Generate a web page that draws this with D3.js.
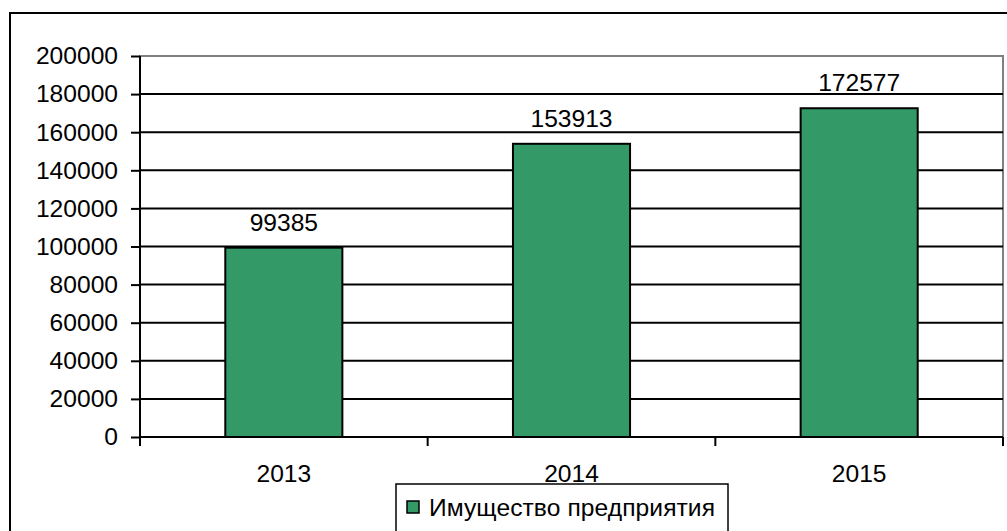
<!DOCTYPE html>
<html>
<head>
<meta charset="utf-8">
<script src="https://cdn.jsdelivr.net/npm/d3@7"></script>
<style>
  html, body { margin: 0; padding: 0; background: #fff; }
  svg text { font-family: "Liberation Sans", Arial, sans-serif; fill: #000; }
</style>
</head>
<body>
<div id="chart"></div>
<script>
const years = ["2013", "2014", "2015"];
const values = [99385, 153913, 172577];
const yTicks = [0, 20000, 40000, 60000, 80000, 100000, 120000, 140000, 160000, 180000, 200000];
const seriesName = "Имущество предприятия";

const W = 1007, H = 531;
const plot = {left: 140, top: 56, right: 1003, bottom: 437};
const barColor = "#339966";
const fontSize = 24.6;

const svg = d3.select("#chart").append("svg").attr("width", W).attr("height", H);

// outer chart frame (right and bottom are cut off)
svg.append("rect").attr("x", 10).attr("y", 13).attr("width", W + 20).attr("height", H + 20)
    .attr("fill", "#fff").attr("stroke", "#000").attr("stroke-width", 2);

const x = d3.scaleBand().domain(years).range([plot.left, plot.right]).paddingInner(0.593).paddingOuter(0.2965);
const y = d3.scaleLinear().domain([0, 200000]).range([plot.bottom, plot.top]);

// plot area border (gray)
svg.append("rect").attr("x", plot.left).attr("y", plot.top)
    .attr("width", plot.right - plot.left).attr("height", plot.bottom - plot.top)
    .attr("fill", "none").attr("stroke", "#808080").attr("stroke-width", 2);

// gridlines
svg.append("g").selectAll("line").data(yTicks.filter(d => d > 0 && d < 200000)).join("line")
    .attr("x1", plot.left).attr("x2", plot.right)
    .attr("y1", d => y(d)).attr("y2", d => y(d))
    .attr("stroke", "#000").attr("stroke-width", 2);

// bars
svg.append("g").selectAll("rect").data(values).join("rect")
    .attr("x", (d, i) => x(years[i]))
    .attr("y", d => y(d))
    .attr("width", x.bandwidth())
    .attr("height", d => y(0) - y(d))
    .attr("fill", barColor).attr("stroke", "#000").attr("stroke-width", 2);

// value labels
svg.append("g").selectAll("text").data(values).join("text")
    .attr("x", (d, i) => x(years[i]) + x.bandwidth() / 2)
    .attr("y", d => y(d) - 17)
    .attr("text-anchor", "middle")
    .attr("font-size", fontSize)
    .text(d => d);

// y axis
const yAxis = svg.append("g").attr("transform", `translate(${plot.left},0)`)
    .call(d3.axisLeft(y).tickValues(yTicks).tickSize(9).tickPadding(13).tickFormat(d => d));
yAxis.select(".domain").attr("stroke", "#000").attr("stroke-width", 2).attr("d", `M0,${plot.top}V${plot.bottom}`);
yAxis.selectAll(".tick line").attr("stroke", "#000").attr("stroke-width", 2);
yAxis.selectAll(".tick text").attr("font-size", fontSize).attr("font-family", "Liberation Sans, Arial, sans-serif").attr("fill", "#000");

// x axis
const xAxis = svg.append("g").attr("transform", `translate(0,${plot.bottom})`)
    .call(d3.axisBottom(x).tickSize(0).tickPadding(28));
xAxis.select(".domain").attr("stroke", "#000").attr("stroke-width", 2).attr("d", `M${plot.left},0H${plot.right}`);
xAxis.selectAll(".tick text").attr("font-size", fontSize).attr("font-family", "Liberation Sans, Arial, sans-serif").attr("fill", "#000");
const step = x.step();
xAxis.selectAll(".sep").data(d3.range(years.length + 1)).join("line")
    .attr("x1", i => plot.left + i * step).attr("x2", i => plot.left + i * step)
    .attr("y1", 0).attr("y2", 9)
    .attr("stroke", "#000").attr("stroke-width", 2);

// legend
const legend = svg.append("g").attr("transform", "translate(396,484)");
legend.append("rect").attr("x", 0).attr("y", 0).attr("width", 332).attr("height", 60)
    .attr("fill", "#fff").attr("stroke", "#000").attr("stroke-width", 1.5);
legend.append("rect").attr("x", 11).attr("y", 17).attr("width", 12).attr("height", 12)
    .attr("fill", barColor).attr("stroke", "#000").attr("stroke-width", 1.5);
legend.append("text").attr("x", 33).attr("y", 32).attr("font-size", fontSize)
    .attr("textLength", 286).attr("lengthAdjust", "spacing").text(seriesName);
</script>
</body>
</html>
